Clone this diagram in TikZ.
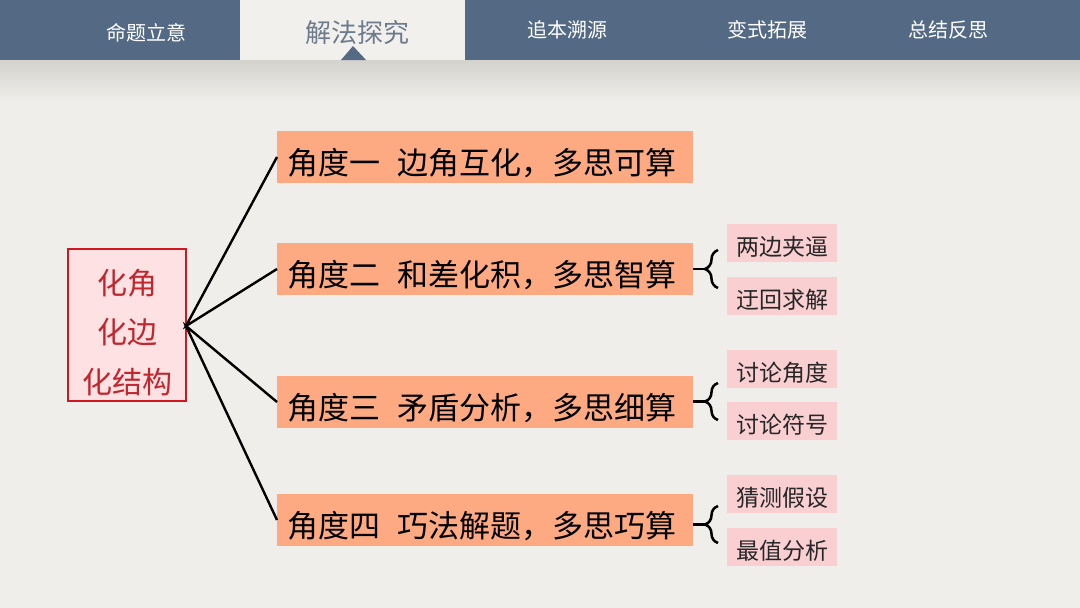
\documentclass[tikz,border=0pt]{standalone}
\usepackage{fontspec}
\setmainfont{Noto Sans CJK SC}
\usetikzlibrary{decorations.pathreplacing}
\definecolor{pagebg}{HTML}{EFEEEA}
\definecolor{tabbg}{HTML}{F1F0EC}
\definecolor{barblue}{HTML}{546A84}
\definecolor{tabtext}{HTML}{6D7B8D}
\definecolor{shadowc}{HTML}{D3D2CD}
\definecolor{orangef}{HTML}{FDAA82}
\definecolor{pinkf}{HTML}{F9CFD2}
\definecolor{centerf}{HTML}{FDE1E3}
\definecolor{centerred}{HTML}{D0161E}
\definecolor{centertext}{HTML}{C0262D}
\tikzset{
  tablabel/.style={text=white, font=\fontsize{20}{24}\selectfont, inner sep=0pt},
  actlabel/.style={text=tabtext, font=\fontsize{26}{30}\selectfont, inner sep=0pt},
  anglebox/.style={fill=orangef, anchor=west, text width=396pt, inner xsep=10pt, inner ysep=0pt,
    minimum height=52pt, align=left, font=\fontsize{31}{36}\selectfont, text=black,
    text height=39pt, text depth=3.5pt},
  subbox/.style={fill=pinkf, minimum width=110pt, minimum height=38pt, inner sep=0pt,
    font=\fontsize{23}{27}\selectfont, text=black!85, text height=28.5pt, text depth=3pt},
  centerbox/.style={fill=centerf, draw=centerred, line width=2pt, minimum width=118pt,
    minimum height=152pt, inner sep=0pt, text=centertext,
    font=\fontsize{30}{49.5}\selectfont},
  link/.style={draw=black, line width=2.4pt},
  bracel/.style={draw=black, line width=2.5pt, decorate, decoration={brace, amplitude=13pt}},
}
\begin{document}
\begin{tikzpicture}[x=1pt, y=-1pt]
\useasboundingbox (0,0) rectangle (1080,608);
\fill[pagebg] (0,0) rectangle (1080,608);
% shadow under bar
\shade[top color=shadowc, bottom color=pagebg] (0,60) rectangle (1080,102);
% bar
\fill[barblue] (0,0) rectangle (1080,60);
\fill[tabbg] (240,0) rectangle (465,60);
\fill[barblue] (341,60) -- (353,46) -- (366,60) -- cycle;
% tab labels
\node[tablabel] (t1) at (146,33) {命题立意};
\node[actlabel] (t2) at (357,33) {解法探究};
\node[tablabel] (t3) at (567,30) {追本溯源};
\node[tablabel] (t4) at (767,30) {变式拓展};
\node[tablabel] (t5) at (948,30) {总结反思};
% center box
\node[centerbox] (c) at (127,325) {\raisebox{-9pt}[\height][\depth]{\begin{tabular}{@{}c@{}}化角\\化边\\化结构\end{tabular}}};
\coordinate (cc) at (186,326);
% angle boxes
\node[anglebox] (a1) at (277,157) {角度一\hspace{0.55em}边角互化，多思可算};
\node[anglebox] (a2) at (277,269) {角度二\hspace{0.55em}和差化积，多思智算};
\node[anglebox] (a3) at (277,402) {角度三\hspace{0.55em}矛盾分析，多思细算};
\node[anglebox] (a4) at (277,520) {角度四\hspace{0.55em}巧法解题，多思巧算};
\draw[link] (a1.west) -- (cc) -- (a2.west);
\draw[link] (a3.west) -- (cc) -- (a4.west);
% sub boxes
\node[subbox] (s1) at (782,243) {两边夹逼};
\node[subbox] (s2) at (782,296) {迂回求解};
\node[subbox] (s3) at (782,369) {讨论角度};
\node[subbox] (s4) at (782,421) {讨论符号};
\node[subbox] (s5) at (782,494) {猜测假设};
\node[subbox] (s6) at (782,547) {最值分析};
% braces
\draw[bracel] (718,288) -- (718,250);
\coordinate (b2) at (705,269);
\draw[link] (a2.east) -- (b2);
\draw[bracel] (718,420) -- (718,383);
\coordinate (b3) at (705,401.5);
\draw[link] (a3.east |- b3) -- (b3);
\draw[bracel] (718,543) -- (718,506);
\coordinate (b4) at (705,524.5);
\draw[link] (a4.east |- b4) -- (b4);
\end{tikzpicture}
\end{document}
